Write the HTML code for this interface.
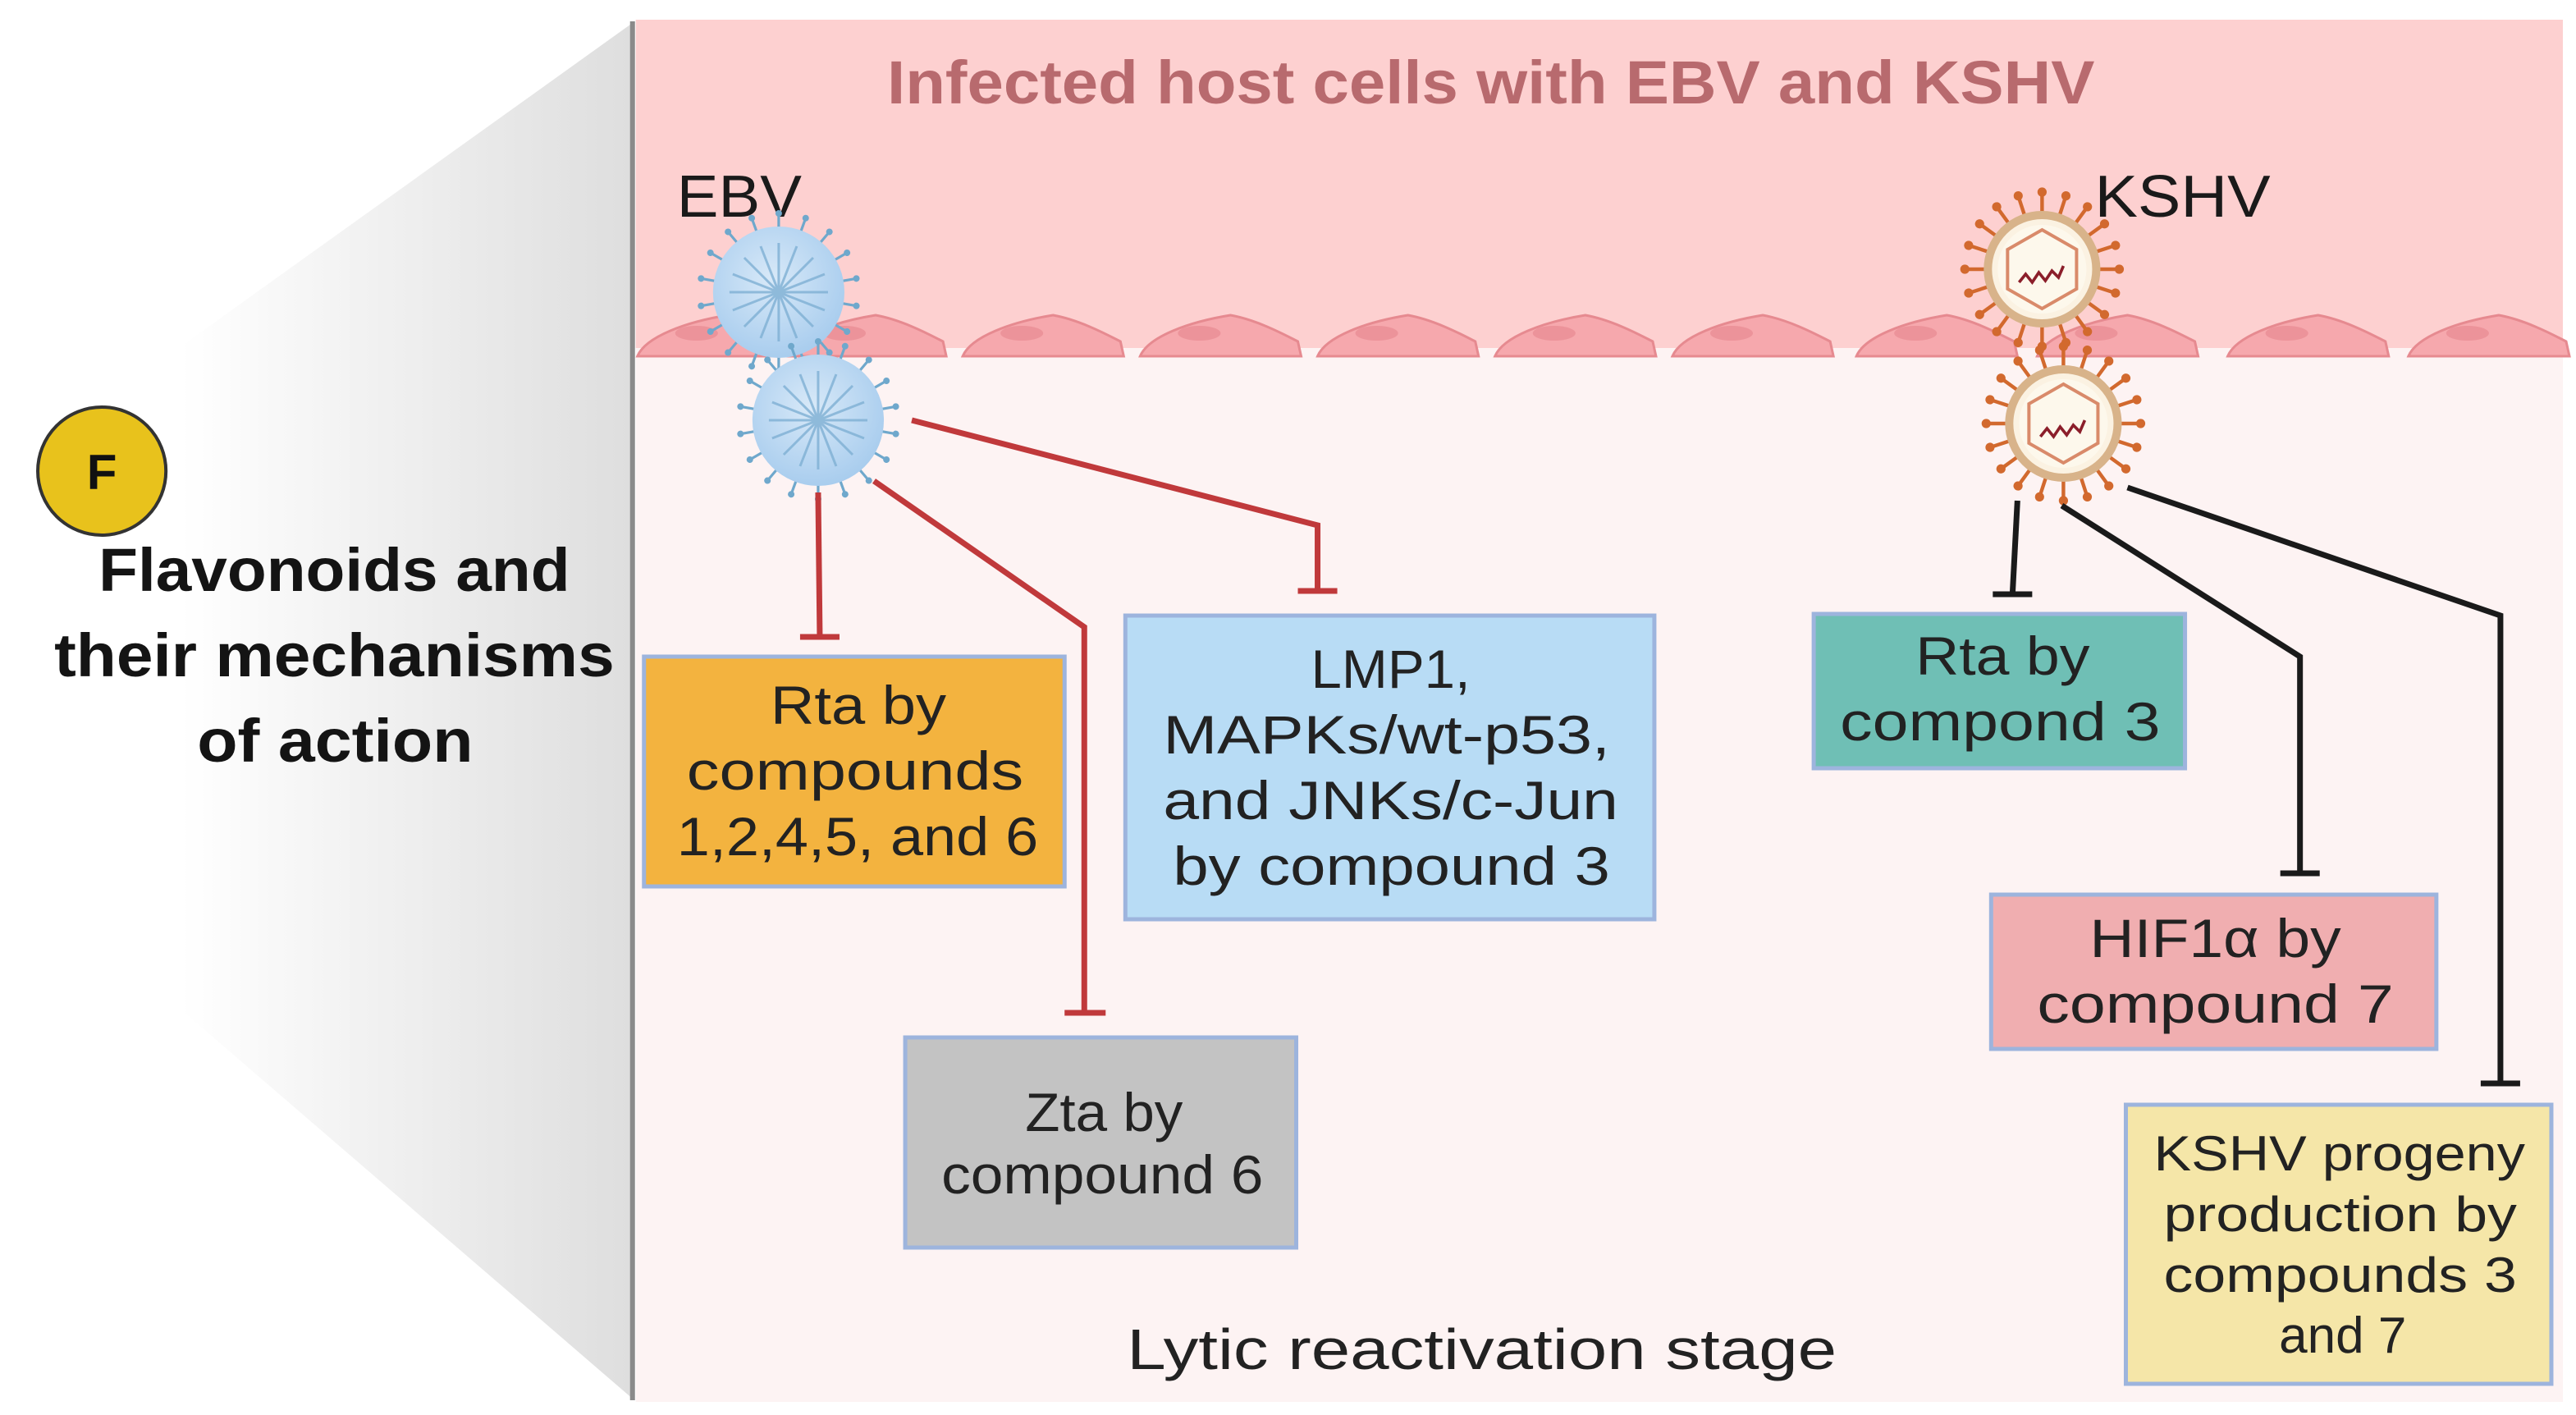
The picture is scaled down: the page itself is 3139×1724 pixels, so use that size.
<!DOCTYPE html>
<html><head><meta charset="utf-8">
<style>
html,body{margin:0;padding:0;background:#fff;}
svg{display:block;}
text{font-family:"Liberation Sans",sans-serif;}
</style></head>
<body>
<svg width="3139" height="1724" viewBox="0 0 1568 862" preserveAspectRatio="none" xmlns="http://www.w3.org/2000/svg">
<defs>
<linearGradient id="sh" x1="385" y1="0" x2="110" y2="0" gradientUnits="userSpaceOnUse">
<stop offset="0" stop-color="#dedede"/><stop offset="1" stop-color="#ffffff"/>
</linearGradient>
<radialGradient id="ebv" cx="0.45" cy="0.4" r="0.6">
<stop offset="0" stop-color="#d8e9f8"/><stop offset="1" stop-color="#a9cdee"/>
</radialGradient>
<g id="es"><line x1="0" y1="-38" x2="0" y2="-47" stroke="#6fa8cc" stroke-width="1.6"/><circle cx="0" cy="-48" r="2" fill="#6fa8cc"/></g>
<g id="ks"><line x1="0" y1="-34" x2="0" y2="-46" stroke="#d2692e" stroke-width="2.2"/><circle cx="0" cy="-47" r="2.8" fill="#d2692e"/></g>
<g id="ebvv">
<use href="#es" transform="rotate(0)"/><use href="#es" transform="rotate(20)"/><use href="#es" transform="rotate(40)"/><use href="#es" transform="rotate(60)"/><use href="#es" transform="rotate(80)"/><use href="#es" transform="rotate(100)"/><use href="#es" transform="rotate(120)"/><use href="#es" transform="rotate(140)"/><use href="#es" transform="rotate(160)"/><use href="#es" transform="rotate(180)"/><use href="#es" transform="rotate(200)"/><use href="#es" transform="rotate(220)"/><use href="#es" transform="rotate(240)"/><use href="#es" transform="rotate(260)"/><use href="#es" transform="rotate(280)"/><use href="#es" transform="rotate(300)"/><use href="#es" transform="rotate(320)"/><use href="#es" transform="rotate(340)"/>
<circle r="40" fill="url(#ebv)"/>
<g stroke="#7fb0d4" stroke-width="1.5" opacity="0.8">
<line x1="0" y1="-30" x2="0" y2="30"/><line x1="-30" y1="0" x2="30" y2="0"/><line x1="-21" y1="-21" x2="21" y2="21"/><line x1="-21" y1="21" x2="21" y2="-21"/>
<line x1="-11" y1="-28" x2="11" y2="28"/><line x1="-28" y1="-11" x2="28" y2="11"/><line x1="-28" y1="11" x2="28" y2="-11"/><line x1="-11" y1="28" x2="11" y2="-28"/>
</g>
</g>
<g id="kv">
<use href="#ks" transform="rotate(0)"/><use href="#ks" transform="rotate(18)"/><use href="#ks" transform="rotate(36)"/><use href="#ks" transform="rotate(54)"/><use href="#ks" transform="rotate(72)"/><use href="#ks" transform="rotate(90)"/><use href="#ks" transform="rotate(108)"/><use href="#ks" transform="rotate(126)"/><use href="#ks" transform="rotate(144)"/><use href="#ks" transform="rotate(162)"/><use href="#ks" transform="rotate(180)"/><use href="#ks" transform="rotate(198)"/><use href="#ks" transform="rotate(216)"/><use href="#ks" transform="rotate(234)"/><use href="#ks" transform="rotate(252)"/><use href="#ks" transform="rotate(270)"/><use href="#ks" transform="rotate(288)"/><use href="#ks" transform="rotate(306)"/><use href="#ks" transform="rotate(324)"/><use href="#ks" transform="rotate(342)"/>
<circle r="33" fill="#fbf2e2" stroke="#d8b38a" stroke-width="5"/>
<circle r="27" fill="#fdf8ec"/>
<polygon points="0,-24 21,-12 21,12 0,24 -21,12 -21,-12" fill="none" stroke="#d98a6a" stroke-width="2"/>
<path d="M-14,8 l4,-5 l4,5 l4,-6 l4,5 l4,-6 l4,4 l3,-7" fill="none" stroke="#8b1e2a" stroke-width="1.8"/>
</g>
<g id="cell"><path d="M0,217 C5,205 30,196 55,192 C72,195 90,205 96,208 L98,217 Z" fill="#f6a8ad" stroke="#e68a90" stroke-width="1.5"/><ellipse cx="36" cy="203" rx="13" ry="4.5" fill="#e88a92" opacity="0.7"/></g>
</defs>

<polygon points="385,14 0,290 0,520 385,852" fill="url(#sh)"/>
<rect x="387" y="12" width="1173" height="842" fill="#fdf3f3"/>
<rect x="387" y="12" width="1173" height="200" fill="#fdd0d0"/>
<line x1="385" y1="13" x2="385" y2="853" stroke="#8a8a8a" stroke-width="3"/>

<text x="540" y="63" textLength="735" lengthAdjust="spacingAndGlyphs" font-size="37" font-weight="bold" fill="#b86a6e">Infected host cells with EBV and KSHV</text>

<use href="#cell" transform="translate(388,0)"/>
<use href="#cell" transform="translate(478,0)"/>
<use href="#cell" transform="translate(586,0)"/>
<use href="#cell" transform="translate(694,0)"/>
<use href="#cell" transform="translate(802,0)"/>
<use href="#cell" transform="translate(910,0)"/>
<use href="#cell" transform="translate(1018,0)"/>
<use href="#cell" transform="translate(1130,0)"/>
<use href="#cell" transform="translate(1240,0)"/>
<use href="#cell" transform="translate(1356,0)"/>
<use href="#cell" transform="translate(1466,0)"/>

<text x="412" y="132" textLength="76" lengthAdjust="spacingAndGlyphs" font-size="36" fill="#1a1a1a">EBV</text>
<text x="1275" y="132" textLength="107" lengthAdjust="spacingAndGlyphs" font-size="36" fill="#1a1a1a">KSHV</text>

<use href="#ebvv" transform="translate(474,178)"/>
<use href="#ebvv" transform="translate(498,256)"/>
<use href="#kv" transform="translate(1243,164)"/>
<use href="#kv" transform="translate(1256,258)"/>

<circle cx="62" cy="287" r="39" fill="#e8c21c" stroke="#333" stroke-width="2"/>
<text x="62" y="298" text-anchor="middle" font-size="30" font-weight="bold" fill="#111">F</text>
<g font-size="37" font-weight="bold" fill="#141414">
<text x="60" y="360" textLength="287" lengthAdjust="spacingAndGlyphs">Flavonoids and</text>
<text x="33" y="412" textLength="341" lengthAdjust="spacingAndGlyphs">their mechanisms</text>
<text x="120" y="464" textLength="168" lengthAdjust="spacingAndGlyphs">of action</text>
</g>

<g stroke="#c0393b" stroke-width="3.5" fill="none">
<polyline points="498,300 499,388"/><line x1="487" y1="388" x2="511" y2="388"/>
<polyline points="532,293 660,382 660,617"/><line x1="648" y1="617" x2="673" y2="617"/>
<polyline points="555,256 802,320 802,360"/><line x1="790" y1="360" x2="814" y2="360"/>
</g>
<g stroke="#1a1a1a" stroke-width="3.5" fill="none">
<polyline points="1228,305 1225,362"/><line x1="1213" y1="362" x2="1237" y2="362"/>
<polyline points="1255,308 1400,400 1400,532"/><line x1="1388" y1="532" x2="1412" y2="532"/>
<polyline points="1295,297 1522,375 1522,660"/><line x1="1510" y1="660" x2="1534" y2="660"/>
</g>

<g stroke="#9db4dd" stroke-width="2.5">
<rect x="392" y="400" width="256" height="140" fill="#f3b33f"/>
<rect x="685" y="375" width="322" height="185" fill="#b8dcf5"/>
<rect x="551" y="632" width="238" height="128" fill="#c3c3c3"/>
<rect x="1104" y="374" width="226" height="94" fill="#6fbfb5"/>
<rect x="1212" y="545" width="271" height="94" fill="#f0aeb0"/>
<rect x="1294" y="673" width="259" height="170" fill="#f5e6a8"/>
</g>
<g font-size="33" fill="#222">
<text x="469" y="441" textLength="107" lengthAdjust="spacingAndGlyphs">Rta by</text>
<text x="418" y="481" textLength="205" lengthAdjust="spacingAndGlyphs">compounds</text>
<text x="412" y="521" textLength="220" lengthAdjust="spacingAndGlyphs">1,2,4,5, and 6</text>
<text x="798" y="419" textLength="97" lengthAdjust="spacingAndGlyphs">LMP1,</text>
<text x="708" y="459" textLength="272" lengthAdjust="spacingAndGlyphs">MAPKs/wt-p53,</text>
<text x="708" y="499" textLength="277" lengthAdjust="spacingAndGlyphs">and JNKs/c-Jun</text>
<text x="714" y="539" textLength="266" lengthAdjust="spacingAndGlyphs">by compound 3</text>
<text x="624" y="689" textLength="96" lengthAdjust="spacingAndGlyphs">Zta by</text>
<text x="573" y="727" textLength="196" lengthAdjust="spacingAndGlyphs">compound 6</text>
<text x="1166" y="411" textLength="106" lengthAdjust="spacingAndGlyphs">Rta by</text>
<text x="1120" y="451" textLength="195" lengthAdjust="spacingAndGlyphs">compond 3</text>
<text x="1272" y="583" textLength="153" lengthAdjust="spacingAndGlyphs">HIF1α by</text>
<text x="1240" y="623" textLength="217" lengthAdjust="spacingAndGlyphs">compound 7</text>
</g>
<g font-size="30" fill="#222">
<text x="1311" y="713" textLength="226" lengthAdjust="spacingAndGlyphs">KSHV progeny</text>
<text x="1317" y="750" textLength="215" lengthAdjust="spacingAndGlyphs">production by</text>
<text x="1317" y="787" textLength="215" lengthAdjust="spacingAndGlyphs">compounds 3</text>
<text x="1426" y="824" text-anchor="middle" font-size="31">and 7</text>
</g>
<text x="686" y="834" textLength="432" lengthAdjust="spacingAndGlyphs" font-size="35" fill="#222">Lytic reactivation stage</text>
</svg>
</body></html>
